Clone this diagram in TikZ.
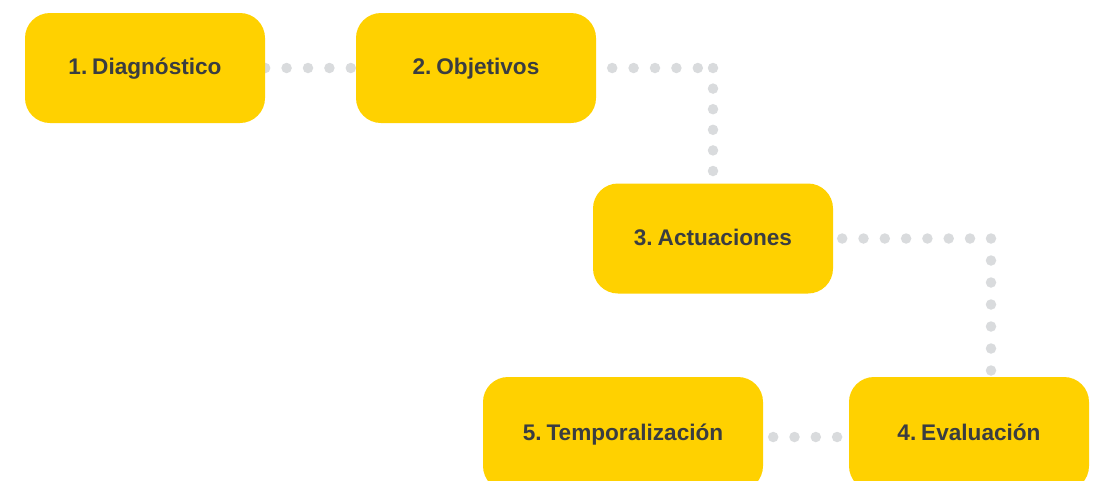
\documentclass[tikz,border=0pt]{standalone}
\usepackage{fontspec}
\setmainfont[WordSpace=0.45]{Liberation Sans}
\usetikzlibrary{backgrounds}

\definecolor{stepyellow}{HTML}{FFD100}
\definecolor{steptext}{HTML}{3A3D41}
\definecolor{dotgray}{HTML}{D9DBDD}

\tikzset{
  stepbox/.style={fill=stepyellow, rounded corners=25pt, minimum width=240pt,
    minimum height=110pt, inner sep=0pt, text height=16pt, text depth=3pt,
    text=steptext, font=\bfseries\fontsize{22.6}{26}\selectfont},
  dotline/.style={draw=dotgray, line width=10.5pt, line cap=round,
    dash pattern=on 0pt off #1},
  dotline/.default=21.4pt
}

\begin{document}
\begin{tikzpicture}[x=1pt,y=-1pt]
        \useasboundingbox (0,0) rectangle (1097,480);

        % Steps
        \node[stepbox] (diag) at (145,68) {1. Diagnóstico};
        \node[stepbox] (obj) at (476,68) {2. Objetivos};
        \node[stepbox] (act) at (713,238.5) {3. Actuaciones};
        \node[stepbox, minimum height=114pt] (eval) at (969,434) {4. Evaluación};
        \node[stepbox, minimum height=114pt, minimum width=280pt] (temp) at (623,434) {5. Temporalización};

        % Corners of the dotted paths
        \coordinate (c23) at (713,68);
        \coordinate (c34) at (991,238.5);

        % Dotted paths, behind the steps
        \begin{scope}[on background layer]
            \draw[dotline] (diag.east) -- (obj.west);
            \draw[dotline] ([xshift=16pt]obj.east) -- (c23);
            \draw[dotline=20.6pt] (c23) -- (act.north);
            \draw[dotline=21.3pt] ([xshift=9pt]act.east) -- (c34);
            \draw[dotline=22pt] (c34) -- (c34 |- eval.north);
            \draw[dotline=21.3pt] ([xshift=10pt,yshift=-3pt]temp.east) -- ([yshift=-3pt]eval.west);
        \end{scope}
\end{tikzpicture}
\end{document}
